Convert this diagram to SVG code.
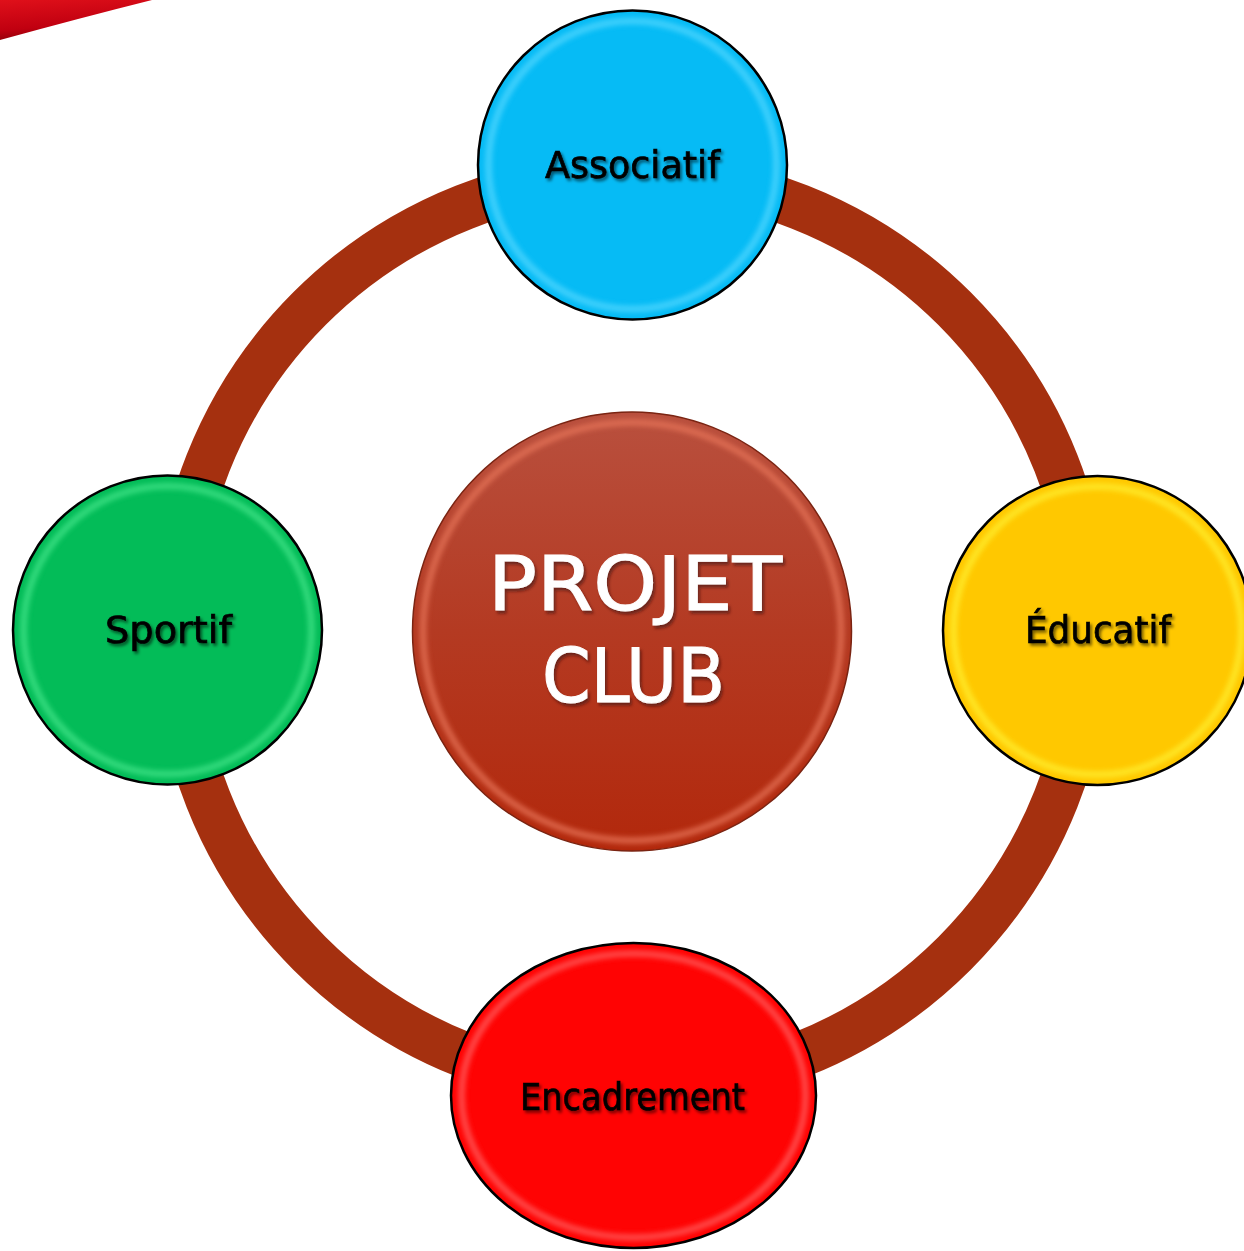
<svg xmlns="http://www.w3.org/2000/svg" width="1244" height="1251" viewBox="0 0 1244 1251">
<defs>
<style>
.lbl{font-family:"DejaVu Sans","Liberation Sans",sans-serif;font-size:37px;fill:#000;stroke:#000;stroke-width:0.7;filter:url(#sh)}
.big{font-family:"DejaVu Sans","Liberation Sans",sans-serif;font-size:75px;fill:#fff;stroke:#fff;stroke-width:1;filter:url(#shw)}
.edge{stroke:#000;stroke-width:2.5}
.bev{fill:none;stroke-width:7;filter:url(#bl);opacity:0.7}
</style>
<filter id="sh" x="-10%" y="-30%" width="120%" height="160%"><feDropShadow dx="2" dy="2.5" stdDeviation="1.5" flood-color="#000" flood-opacity="0.55"/></filter>
<filter id="shw" x="-10%" y="-30%" width="120%" height="160%"><feDropShadow dx="2" dy="3" stdDeviation="1.5" flood-color="#3a1208" flood-opacity="0.6"/></filter>
<filter id="bl" x="-10%" y="-10%" width="120%" height="120%"><feGaussianBlur stdDeviation="2.5"/></filter>
<linearGradient id="gc" x1="0" y1="0" x2="0" y2="1"><stop offset="0" stop-color="#B9503E"/><stop offset="0.5" stop-color="#B43A22"/><stop offset="1" stop-color="#B2280C"/></linearGradient>
<linearGradient id="gs" x1="0" y1="0" x2="0.3" y2="1"><stop offset="0" stop-color="#E0101A"/><stop offset="0.7" stop-color="#C00010"/><stop offset="1" stop-color="#8A0008"/></linearGradient>
</defs>
<rect width="1244" height="1251" fill="#fff"/>
<path d="M0,0 L152,0 Q80,18 0,40 Z" fill="url(#gs)"/>
<g id="connectors">
<circle cx="632" cy="631" r="456" fill="none" stroke="#A5300F" stroke-width="46"/>
</g>
<g id="center">
<circle cx="632" cy="631.5" r="219.5" fill="url(#gc)" stroke="#7a2412" stroke-width="1.5"/>
<circle cx="632" cy="631.5" r="209" class="bev" stroke="#E8765A"/>
<text class="big" x="488" y="610" textLength="294" lengthAdjust="spacingAndGlyphs">PROJET</text>
<text class="big" x="542" y="702" textLength="183" lengthAdjust="spacingAndGlyphs">CLUB</text>
</g>
<g id="associatif">
<circle cx="632.5" cy="165" r="154.5" fill="#06BBF5" class="edge"/>
<circle cx="632.5" cy="165" r="144" class="bev" stroke="#55D8FF"/>
<text class="lbl" x="545" y="178" textLength="175" lengthAdjust="spacingAndGlyphs">Associatif</text>
</g>
<g id="educatif">
<circle cx="1097.5" cy="630.5" r="154.5" fill="#FFC800" class="edge"/>
<circle cx="1097.5" cy="630.5" r="144" class="bev" stroke="#FFF030"/>
<text class="lbl" x="1025" y="643" textLength="146" lengthAdjust="spacingAndGlyphs">Éducatif</text>
</g>
<g id="sportif">
<circle cx="167.5" cy="630" r="154.5" fill="#03BC58" class="edge"/>
<circle cx="167.5" cy="630" r="144" class="bev" stroke="#45E58A"/>
<text class="lbl" x="105" y="643" textLength="127" lengthAdjust="spacingAndGlyphs">Sportif</text>
</g>
<g id="encadrement">
<ellipse cx="633.5" cy="1095.5" rx="182.5" ry="152.5" fill="#FF0303" class="edge"/>
<ellipse cx="633.5" cy="1095.5" rx="172" ry="142" class="bev" stroke="#FF6060"/>
<text class="lbl" x="520" y="1110" textLength="225" lengthAdjust="spacingAndGlyphs">Encadrement</text>
</g>
</svg>
